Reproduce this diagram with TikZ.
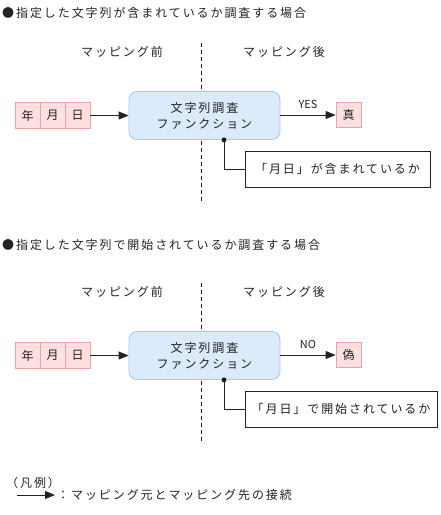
\documentclass[tikz,border=0pt]{standalone}
\usepackage{fontspec}
\setmainfont{Noto Sans CJK JP}[LetterSpace=16]
\newfontfamily\latinf{Noto Sans CJK JP}
\usetikzlibrary{arrows.meta}
\definecolor{pinkfill}{HTML}{FFE0E0}
\definecolor{pinkline}{HTML}{F2A2A2}
\definecolor{bluefill}{HTML}{DCEBFC}
\definecolor{blueline}{HTML}{A4C8F0}
\definecolor{ink}{HTML}{222222}
\begin{document}
\begin{tikzpicture}[x=1pt,y=-1pt,
  every node/.style={font=\fontsize{12}{14}\selectfont, text=ink, inner sep=0pt},
  cell/.style={draw=pinkline, fill=pinkfill, line width=0.8pt, minimum width=25pt, minimum height=25.5pt},
  func/.style={draw=blueline, fill=bluefill, line width=0.8pt, rounded corners=8pt, minimum width=151pt, minimum height=48pt, align=center},
  note/.style={draw=ink, line width=0.8pt, minimum height=36pt, fill=white},
  arr/.style={draw=ink, line width=0.8pt, -{Triangle[length=10pt,width=8pt]}},
  conn/.style={draw=ink, line width=0.8pt},
  divider/.style={draw=ink, line width=1pt, dash pattern=on 4pt off 3pt},
  smalllat/.style={font=\latinf\fontsize{11}{13}\selectfont}
]
\useasboundingbox (0,0) rectangle (441,515);

% ---------- Section 1 ----------
\node[anchor=west] (t1) at (2,13) {●指定した文字列が含まれているか調査する場合};
\node (pre1) at (122,52) {マッピング前};
\node (post1) at (284,52) {マッピング後};
\coordinate (da1) at (201,43);
\coordinate (db1) at (201,204);
\draw[divider] (da1) -- (db1);

\node[cell] (y1) at (27.5,115.5) {年};
\node[cell] (m1) at (52.5,115.5) {月};
\node[cell] (d1) at (77.5,115.5) {日};
\node[func] (f1) at (204.5,115.5) {文字列調査\\[2pt]ファンクション};
\node[cell] (r1) at (348.5,115) {真};
\draw[arr] (d1.east) -- (f1.west);
\draw[arr] (f1.east |- r1) -- node[smalllat, above=6pt] (yes) {YES} (r1.west);
\node[note, minimum width=185pt] (n1) at (337.5,169) {「月日」が含まれているか};
\coordinate (p1) at ([xshift=19.5pt]f1.south);
\fill[ink] (p1) circle (2.5pt);
\draw[conn] (p1) |- (n1.west);

% ---------- Section 2 ----------
\node[anchor=west] (t2) at (2,245) {●指定した文字列で開始されているか調査する場合};
\node (pre2) at (122,292) {マッピング前};
\node (post2) at (284,292) {マッピング後};
\coordinate (da2) at (201,283);
\coordinate (db2) at (201,444);
\draw[divider] (da2) -- (db2);

\node[cell] (y2) at (27.5,355.5) {年};
\node[cell] (m2) at (52.5,355.5) {月};
\node[cell] (d2) at (77.5,355.5) {日};
\node[func] (f2) at (204.5,355.5) {文字列調査\\[2pt]ファンクション};
\node[cell] (r2) at (348.5,355) {偽};
\draw[arr] (d2.east) -- (f2.west);
\draw[arr] (f2.east |- r2) -- node[smalllat, above=6pt] (no) {NO} (r2.west);
\node[note, minimum width=192pt] (n2) at (341,409) {「月日」で開始されているか};
\coordinate (p2) at ([xshift=19.5pt]f2.south);
\fill[ink] (p2) circle (2.5pt);
\draw[conn] (p2) |- (n2.west);

% ---------- Legend ----------
\node[anchor=west] (lg) at (6,483) {（凡例）};
\coordinate (la) at (17,495);
\coordinate (lb) at (55,495);
\draw[arr] (la) -- (lb);
\node[anchor=west] (lt) at (57,495) {：マッピング元とマッピング先の接続};
\end{tikzpicture}
\end{document}
